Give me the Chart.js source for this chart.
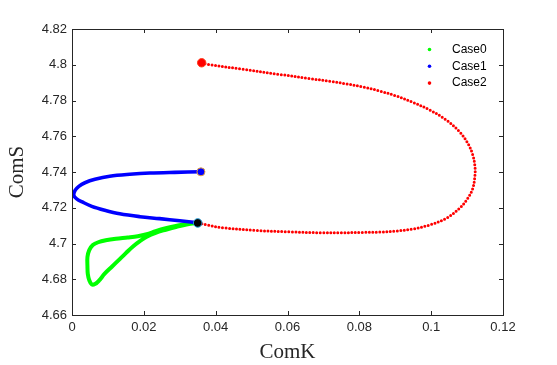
<!DOCTYPE html>
<html>
<head>
<meta charset="utf-8">
<script src="https://cdn.jsdelivr.net/npm/chart.js@4/dist/chart.umd.min.js"></script>
<style>
  html, body { margin: 0; padding: 0; background: #fff; }
  canvas { display: block; }
</style>
</head>
<body>
<canvas id="chart" width="557" height="365"></canvas>
<script>
// values (ComK on x, ComS on y)
const seriesNames = ['Case0', 'Case1', 'Case2'];

const case0K = [0.0349, 0.0322, 0.0292, 0.0261, 0.0233, 0.0208, 0.0183, 0.0155, 0.0122, 0.0094, 0.0073, 0.0058, 0.0048, 0.0043, 0.0043, 0.0044, 0.0048, 0.0055, 0.0064, 0.0075, 0.0091, 0.0111, 0.0130, 0.0150, 0.0169, 0.0189, 0.0208, 0.0233, 0.0261, 0.0292, 0.0322, 0.0349];
const case0S = [4.7116, 4.7111, 4.7099, 4.7085, 4.7069, 4.7052, 4.7041, 4.7034, 4.7027, 4.7018, 4.7007, 4.6991, 4.6963, 4.6924, 4.6873, 4.6829, 4.6795, 4.6771, 4.6773, 4.6792, 4.6831, 4.6870, 4.6907, 4.6946, 4.6982, 4.7013, 4.7038, 4.7060, 4.7077, 4.7094, 4.7108, 4.7116];

const case1K = [0.0350, 0.0300, 0.0244, 0.0189, 0.0133, 0.0091, 0.0055, 0.0030, 0.0013, 0.0005, 0.0009, 0.0019, 0.0036, 0.0064, 0.0105, 0.0161, 0.0217, 0.0286, 0.0359];
const case1S = [4.7116, 4.7127, 4.7139, 4.7150, 4.7166, 4.7186, 4.7208, 4.7231, 4.7250, 4.7270, 4.7298, 4.7320, 4.7340, 4.7359, 4.7376, 4.7387, 4.7394, 4.7398, 4.7401];

const case2K = [0.0361, 0.0375, 0.0475, 0.0578, 0.0662, 0.0722, 0.0764, 0.0810, 0.0857, 0.0903, 0.0949, 0.0996, 0.1042, 0.1079, 0.1102, 0.1116, 0.1122, 0.1122, 0.1116, 0.1102, 0.1079, 0.1042, 0.0996, 0.0949, 0.0903, 0.0857, 0.0810, 0.0745, 0.0698, 0.0606, 0.0514, 0.0420, 0.0375, 0.0350];
const case2S = [4.8011, 4.8003, 4.7975, 4.7946, 4.7923, 4.7906, 4.7893, 4.7876, 4.7853, 4.7825, 4.7790, 4.7747, 4.7691, 4.7625, 4.7561, 4.7495, 4.7430, 4.7383, 4.7309, 4.7253, 4.7197, 4.7141, 4.7104, 4.7081, 4.7070, 4.7064, 4.7062, 4.7060, 4.7060, 4.7065, 4.7073, 4.7088, 4.7104, 4.7116];

// the three big markers: start of Case2, start of Case1, common point
const markerK = [0.0361, 0.0359, 0.0350];
const markerS = [4.8011, 4.7401, 4.7115];

const xTickVals = [0, 0.02, 0.04, 0.06, 0.08, 0.1, 0.12];
const xTickLabels = ['0', '0.02', '0.04', '0.06', '0.08', '0.1', '0.12'];
const yTickVals = [4.66, 4.68, 4.7, 4.72, 4.74, 4.76, 4.78, 4.8, 4.82];
const yTickLabels = ['4.66', '4.68', '4.7', '4.72', '4.74', '4.76', '4.78', '4.8', '4.82'];

const toPoints = (ks, ss) => ks.map((k, i) => ({ x: k, y: ss[i] }));

const colors = ['#00ff00', '#0000ff', '#ff0000'];
const axisColor = '#262626';
const tickFont = { family: "'Liberation Sans', Arial, sans-serif", size: 13 };

// MATLAB style box with inward ticks, plus the frameless legend
const matlabAxes = {
  id: 'matlabAxes',
  afterDraw(chart) {
    const { ctx, chartArea: a, scales: { x, y } } = chart;
    ctx.save();
    ctx.strokeStyle = axisColor;
    ctx.lineWidth = 1;
    ctx.strokeRect(Math.round(a.left) + 0.5, Math.round(a.top) + 0.5, Math.round(a.right - a.left), Math.round(a.bottom - a.top));
    ctx.beginPath();
    xTickVals.forEach((v) => {
      const px = Math.round(x.getPixelForValue(v)) + 0.5;
      ctx.moveTo(px, a.bottom); ctx.lineTo(px, a.bottom - 4);
      ctx.moveTo(px, a.top); ctx.lineTo(px, a.top + 4);
    });
    yTickVals.forEach((v) => {
      const py = Math.round(y.getPixelForValue(v)) + 0.5;
      ctx.moveTo(a.left, py); ctx.lineTo(a.left + 4, py);
      ctx.moveTo(a.right, py); ctx.lineTo(a.right - 4, py);
    });
    ctx.stroke();

    // legend
    ctx.font = "12px 'Liberation Sans', Arial, sans-serif";
    ctx.textBaseline = 'middle';
    ctx.textAlign = 'left';
    seriesNames.forEach((name, i) => {
      const ly = 49.5 + i * 16.8;
      ctx.fillStyle = colors[i];
      ctx.beginPath();
      ctx.arc(429.5, ly, 1.8, 0, Math.PI * 2);
      ctx.fill();
      ctx.fillStyle = '#000';
      ctx.fillText(name, 452, ly);
    });
    ctx.restore();
  }
};

const markers = toPoints(markerK, markerS);

new Chart(document.getElementById('chart'), {
  type: 'scatter',
  data: {
    datasets: [
      {
        label: 'markers',
        data: markers,
        showLine: false,
        pointRadius: [4.2, 4, 4.3],
        pointBackgroundColor: ['#ff0000', '#0000ff', '#000000'],
        pointBorderColor: ['#ff3b1a', '#e8a33c', '#2a9fd8'],
        pointBorderWidth: 1,
        order: 0
      },
      {
        label: seriesNames[2],
        data: toPoints(case2K, case2S),
        showLine: true,
        pointRadius: 0,
        borderColor: colors[2],
        borderWidth: 3,
        borderDash: [0, 3.5],
        borderCapStyle: 'round',
        tension: 0.35,
        order: 1
      },
      {
        label: seriesNames[1],
        data: toPoints(case1K, case1S),
        showLine: true,
        pointRadius: 0,
        borderColor: colors[1],
        borderWidth: 3.6,
        tension: 0.35,
        order: 2
      },
      {
        label: seriesNames[0],
        data: toPoints(case0K, case0S),
        showLine: true,
        pointRadius: 0,
        borderColor: colors[0],
        borderWidth: 4,
        tension: 0.35,
        order: 3
      }
    ]
  },
  options: {
    responsive: false,
    animation: false,
    layout: { padding: { top: 29, right: 54, left: 0, bottom: 0 } },
    plugins: {
      legend: { display: false },
      tooltip: { enabled: false }
    },
    scales: {
      x: {
        type: 'linear',
        min: 0,
        max: 0.12,
        afterBuildTicks: (scale) => { scale.ticks = xTickVals.map((v) => ({ value: v })); },
        afterFit: (scale) => { scale.height = 50; },
        grid: { display: false, drawTicks: false },
        border: { display: false },
        ticks: {
          color: axisColor,
          font: tickFont,
          padding: 5,
          maxRotation: 0,
          callback: (value, i) => xTickLabels[i]
        },
        title: {
          display: true,
          text: 'ComK',
          color: axisColor,
          font: { family: "'Liberation Serif', 'Times New Roman', serif", size: 21 },
          padding: { top: 0, bottom: 0 }
        }
      },
      y: {
        type: 'linear',
        min: 4.66,
        max: 4.82,
        afterBuildTicks: (scale) => { scale.ticks = yTickVals.map((v) => ({ value: v })); },
        afterFit: (scale) => { scale.width = 72; },
        grid: { display: false, drawTicks: false },
        border: { display: false },
        ticks: {
          color: axisColor,
          font: tickFont,
          padding: 5,
          callback: (value, i) => yTickLabels[i]
        },
        title: {
          display: true,
          text: 'ComS',
          color: axisColor,
          font: { family: "'Liberation Serif', 'Times New Roman', serif", size: 21 },
          padding: { top: 5, bottom: 0 }
        }
      }
    }
  },
  plugins: [matlabAxes]
});
</script>
</body>
</html>
